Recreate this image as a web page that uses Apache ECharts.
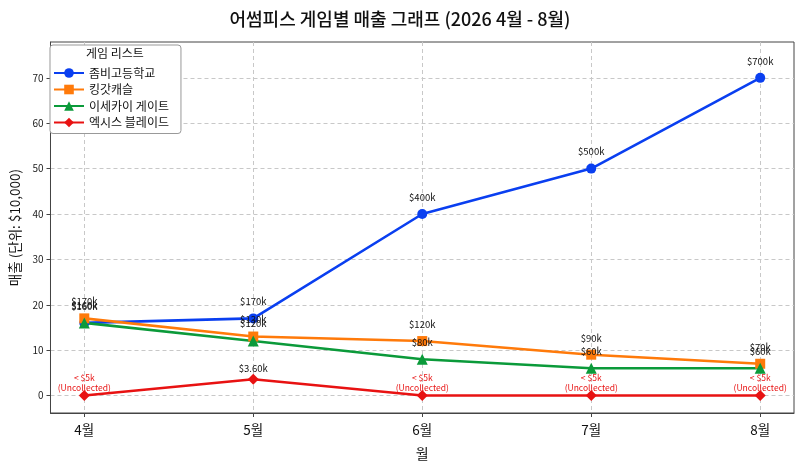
<!DOCTYPE html>
<html>
<head>
<meta charset="utf-8">
<script src="https://cdn.jsdelivr.net/npm/echarts@6/dist/echarts.min.js"></script>
<style>
  html, body { margin: 0; padding: 0; background: #fff; }
  #chart { width: 800px; height: 466px; }
</style>
</head>
<body>
<div id="chart"></div>
<script>
/* game sales line chart */

var months = ["4월", "5월", "6월", "7월", "8월"];
var gameNames = ["좀비고등학교", "킹갓캐슬", "이세카이 게이트", "엑시스 블레이드"];

var salesZombie = [16, 17, 40, 50, 70];
var salesKing = [17, 13, 12, 9, 7];
var salesIsekai = [16, 12, 8, 6, 6];
var salesAxis = [0, 3.6, 0, 0, 0];
var axisLabels = ["< $5k\n(Uncollected)", "$3.60k", "< $5k\n(Uncollected)", "< $5k\n(Uncollected)", "< $5k\n(Uncollected)"];

var xTicks = [0, 1, 2, 3, 4];
var yTicks = [0, 10, 20, 30, 40, 50, 60, 70];

var colors = ["#0a3ff0", "#ff7a0a", "#0b9a3a", "#e81212"];
var FONT = "'Noto Sans CJK KR', 'Noto Sans', sans-serif";

function toPoints(values) {
	var re = [];
	for (var i = 0; i < values.length; i++) {
		re.push([i, values[i]]);
	}
	return re;
}

function moneyLabel(p) {
	return "$" + Math.round(p.value[1] * 10) + "k";
}

function makeSeries(name, values, color, symbol, size) {
	return {
		name: name,
		type: "line",
		data: toPoints(values),
		symbol: symbol,
		symbolSize: size,
		lineStyle: { width: 2.6, color: color },
		itemStyle: { color: color },
		label: {
			show: true,
			position: "top",
			distance: 7,
			fontFamily: FONT,
			fontSize: 9.5,
			color: "#111",
			formatter: moneyLabel
		},
		emphasis: { disabled: true },
		animation: false
	};
}

var series = [
	makeSeries(gameNames[0], salesZombie, colors[0], "circle", 10),
	makeSeries(gameNames[1], salesKing, colors[1], "rect", 10),
	makeSeries(gameNames[2], salesIsekai, colors[2], "triangle", 11),
	makeSeries(gameNames[3], salesAxis, colors[3], "diamond", 11)
];
// red series: uncollected months get a red two-line note right above the point
series[3].label.rich = {
	red: { color: colors[3], fontSize: 8.5, fontFamily: FONT, lineHeight: 10 },
	blk: { color: "#111", fontSize: 9.5, fontFamily: FONT, lineHeight: 12, padding: [0, 0, 4, 0] }
};
series[3].label.distance = -3;
series[3].label.formatter = function (p) {
	if (salesAxis[p.dataIndex] == 0) return "{red|< $5k}\n{red|(Uncollected)}";
	return "{blk|" + axisLabels[p.dataIndex] + "}";
};

var chart = echarts.init(document.getElementById("chart"), null, { renderer: "canvas" });

var option = {
	backgroundColor: "#fff",
	textStyle: { fontFamily: FONT },
	title: {
		text: "어썸피스 게임별 매출 그래프 (2026 4월 - 8월)",
		left: "center",
		top: 5,
		textStyle: { fontFamily: FONT, fontSize: 18, fontWeight: 500, color: "#111" }
	},
	grid: {
		left: 45, right: 6, top: 42, bottom: 50,
		show: true, borderColor: "#444", borderWidth: 1
	},
	legend: {
		orient: "vertical",
		left: 50, top: 45,
		padding: [22, 12, 5, 3],
		itemGap: 4.5,
		itemWidth: 30,
		itemHeight: 12,
		backgroundColor: "#fff",
		borderColor: "#999",
		borderWidth: 1,
		borderRadius: 3,
		textStyle: { fontFamily: FONT, fontSize: 12, color: "#111" },
		data: gameNames
	},
	graphic: [{
		type: "text",
		left: 86, top: 47,
		style: { text: "게임 리스트", fontFamily: FONT, fontSize: 12, fill: "#111" },
		z: 100
	}],
	xAxis: {
		type: "value",
		min: -0.2, max: 4.2,
		name: "월",
		nameLocation: "middle",
		nameGap: 34,
		nameTextStyle: { fontFamily: FONT, fontSize: 14, color: "#111" },
		axisLine: { show: true, onZero: false, lineStyle: { color: "#444" } },
		axisTick: { show: true, length: 4, customValues: xTicks, lineStyle: { color: "#444" } },
		axisLabel: {
			customValues: xTicks,
			fontFamily: FONT, fontSize: 13.5, color: "#111", margin: 10,
			formatter: function (v) { return months[Math.round(v)]; }
		},
		splitLine: { show: true, lineStyle: { color: "#c8c8c8", type: [4, 3] } }
	},
	yAxis: {
		type: "value",
		min: -3.85, max: 77.9,
		name: "매출 (단위: $10,000)",
		nameLocation: "middle",
		nameGap: 28,
		nameTextStyle: { fontFamily: FONT, fontSize: 13.5, color: "#111" },
		axisLine: { show: true, onZero: false, lineStyle: { color: "#444" } },
		axisTick: { show: true, length: 4, customValues: yTicks, lineStyle: { color: "#444" } },
		axisLabel: {
			customValues: yTicks,
			fontFamily: FONT, fontSize: 10, color: "#222", margin: 7
		},
		splitLine: { show: true, lineStyle: { color: "#c8c8c8", type: [4, 3] } }
	},
	series: series
};

chart.setOption(option);
</script>
</body>
</html>
